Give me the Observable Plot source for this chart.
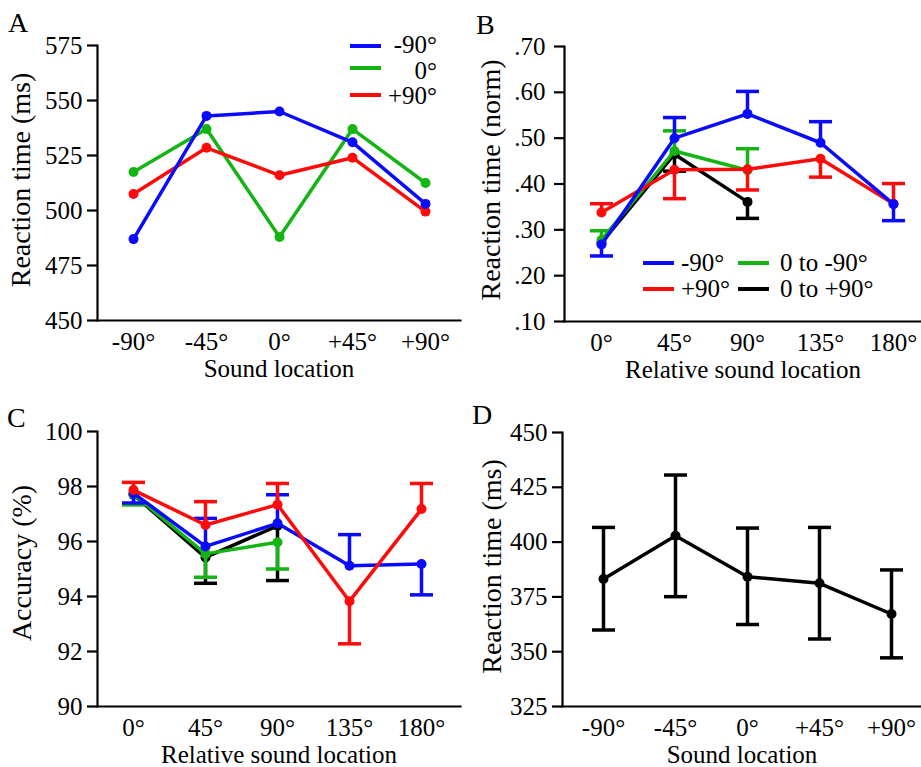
<!DOCTYPE html>
<html>
<head>
<meta charset="utf-8">
<script src="https://cdn.jsdelivr.net/npm/d3@7"></script>
<script src="https://cdn.jsdelivr.net/npm/@observablehq/plot@0.6"></script>
<style>
  html, body { margin: 0; padding: 0; background: #fff; font-family: 'Liberation Serif'; }
  #root { position: relative; width: 921px; height: 767px; overflow: hidden; font-family: 'Liberation Serif'; color: #000; }
  .panel { position: absolute; }
  .panel svg { overflow: visible; font-family: 'Liberation Serif'; }
  .letter { position: absolute; font-family: 'Liberation Serif'; font-size: 28px; line-height: 1; }
  .sw { position: absolute; height: 4px; width: 31px; }
  .lg { position: absolute; font-family: 'Liberation Serif'; font-size: 25px; line-height: 0.82; transform: translateY(-50%); white-space: nowrap; }
</style>
</head>
<body>
<div id="root"></div>
<script>
// ---------- data ----------
const soundLocation = ["-90°", "-45°", "0°", "+45°", "+90°"];
const relativeLocation = ["0°", "45°", "90°", "135°", "180°"];

// Panel A: reaction time (ms) by sound location
const aMinus90 = [487, 543, 545, 531, 503];
const aZero = [517.5, 537, 488, 537, 512.5];
const aPlus90 = [507.5, 528.5, 516, 524, 499.5];

// Panel B: normalized reaction time; err = end of the (one-sided) error bar
const bMinus90 = [0.268, 0.500, 0.553, 0.490, 0.356];
const bMinus90Err = [0.243, 0.545, 0.602, 0.536, 0.320];
const bPlus90 = [0.338, 0.431, 0.432, 0.455, 0.357];
const bPlus90Err = [0.357, 0.368, 0.387, 0.415, 0.401];
const bZeroToMinus90 = [0.278, 0.472, 0.430];
const bZeroToMinus90Err = [0.298, 0.516, 0.477];
const bZeroToPlus90 = [0.272, 0.465, 0.361];
const bZeroToPlus90Err = [null, 0.428, 0.325];

// Panel C: accuracy (%)
const cMinus90 = [97.76, 95.82, 96.66, 95.12, 95.18];
const cMinus90Err = [97.40, 96.84, 97.70, 96.25, 94.06];
const cPlus90 = [97.87, 96.60, 97.34, 93.83, 97.18];
const cPlus90Err = [98.15, 97.45, 98.11, 92.28, 98.11];
const cZeroToMinus90 = [97.72, 95.55, 95.97];
const cZeroToMinus90Err = [97.33, 94.70, 95.00];
const cZeroToPlus90 = [97.70, 95.42, 96.57];
const cZeroToPlus90Err = [null, 94.48, 94.58];

// Panel D: reaction time (ms), mean with lower/upper error
const dRT = [383.2, 402.9, 384.2, 381.2, 367.2];
const dRTHigh = [406.7, 430.6, 406.4, 406.7, 387.3];
const dRTLow = [359.9, 375.1, 362.4, 355.8, 347.2];

// tick labels
const aTicks = [450, 475, 500, 525, 550, 575];
const bTicks = [0.1, 0.2, 0.3, 0.4, 0.5, 0.6, 0.7];
const cTicks = [90, 92, 94, 96, 98, 100];
const dTicks = [325, 350, 375, 400, 425, 450];

const BLUE = "#0a0aff", GREEN = "#14b414", RED = "#ff0a0a", BLACK = "#000000";

const legendA = [["-90°", BLUE], ["0°", GREEN], ["+90°", RED]];
const legendB = [["-90°", BLUE], ["0 to -90°", GREEN], ["+90°", RED], ["0 to +90°", BLACK]];

// ---------- helpers ----------
const FONT = "Liberation Serif";
const capSymbol = {
  draw(context, size) {
    const w = Math.sqrt(size / Math.PI);
    context.moveTo(-w, 0);
    context.lineTo(w, 0);
  }
};
const SW = 3.5;
const DOT_R = 5;

function seriesMarks(cats, vals, errs, color) {
  const rows = vals.map((v, i) => ({x: cats[i], y: v, e: errs ? errs[i] : null}));
  const er = rows.filter(d => d.e != null);
  return [
    Plot.ruleX(er, {x: "x", y1: "y", y2: "e", stroke: color, strokeWidth: SW}),
    Plot.dot(er, {x: "x", y: "e", symbol: capSymbol, r: 11.5, stroke: color, strokeWidth: SW, fill: "none"}),
    Plot.line(rows, {x: "x", y: "y", stroke: color, strokeWidth: SW}),
    Plot.dot(rows, {x: "x", y: "y", r: DOT_R, fill: color})
  ];
}

function axes(yTicks, yFormat, xLabel, yLabel, yDx, yPad, yDy) {
  return [
    Plot.axisY({ticks: yTicks, tickFormat: yFormat, tickSize: 10, tickPadding: yPad, strokeWidth: 2.2, fontSize: 25, fontFamily: FONT, label: null}),
    Plot.axisX({tickSize: 0, tickPadding: 12, fontSize: 25, fontFamily: FONT, label: null}),
    Plot.frame({anchor: "left", strokeWidth: 2.2}),
    Plot.frame({anchor: "bottom", strokeWidth: 2.2}),
    Plot.text([xLabel], {frameAnchor: "bottom", lineAnchor: "bottom", dy: 56, fontSize: 25, fontFamily: FONT}),
    Plot.text([yLabel], {frameAnchor: "left", rotate: -90, dx: yDx, dy: yDy, fontSize: 28, fontFamily: FONT, textAnchor: "middle", lineAnchor: "middle"})
  ];
}

const baseStyle = "font-family: 'Liberation Serif'; font-size: 25px; background: transparent; color: #000; overflow: visible;";

const root = document.getElementById("root");
function place(node, left, top) {
  const div = document.createElement("div");
  div.className = "panel";
  div.style.left = left + "px";
  div.style.top = top + "px";
  div.appendChild(node);
  root.appendChild(div);
}
function letter(t, left, top) {
  const d = document.createElement("div");
  d.className = "letter";
  d.textContent = t;
  d.style.left = left + "px";
  d.style.top = top + "px";
  root.appendChild(d);
}
function legendItem(label, color, lineLeft, textLeft, lineY, textY, rightAlign) {
  const s = document.createElement("div");
  s.className = "sw";
  s.style.left = lineLeft + "px";
  s.style.top = (lineY - 2) + "px";
  s.style.background = color;
  root.appendChild(s);
  const t = document.createElement("div");
  t.className = "lg";
  t.textContent = label;
  t.style.top = textY + "px";
  if (rightAlign) { t.style.right = (921 - textLeft) + "px"; t.style.textAlign = "right"; }
  else t.style.left = textLeft + "px";
  root.appendChild(t);
}

// ---------- Panel A ----------
const plotA = Plot.plot({
  width: 460, height: 390,
  marginLeft: 97, marginRight: 0, marginTop: 45, marginBottom: 70,
  style: baseStyle,
  x: {type: "point", domain: soundLocation, padding: 0.48, align: 0.51},
  y: {domain: [450, 575]},
  marks: [
    ...axes(aTicks, d => d, "Sound location", "Reaction time (ms)", -76, 5, -3),
    ...seriesMarks(soundLocation, aZero, null, GREEN),
    ...seriesMarks(soundLocation, aPlus90, null, RED),
    ...seriesMarks(soundLocation, aMinus90, null, BLUE)
  ]
});
place(plotA, 0, 0);

// ---------- Panel B ----------
const fmtB = d => d3.format(".2f")(d).replace(/^0/, "");
const plotB = Plot.plot({
  width: 461, height: 390,
  marginLeft: 104, marginRight: 0, marginTop: 46, marginBottom: 69,
  style: baseStyle,
  x: {type: "point", domain: relativeLocation, padding: 0.437, align: 0.5625},
  y: {domain: [0.1, 0.7]},
  marks: [
    ...axes(bTicks, fmtB, "Relative sound location", "Reaction time (norm)", -73, 9, -4),
    ...seriesMarks(relativeLocation, bZeroToPlus90, bZeroToPlus90Err, BLACK),
    ...seriesMarks(relativeLocation, bZeroToMinus90, bZeroToMinus90Err, GREEN),
    ...seriesMarks(relativeLocation, bPlus90, bPlus90Err, RED),
    ...seriesMarks(relativeLocation, bMinus90, bMinus90Err, BLUE)
  ]
});
place(plotB, 460, 0);

// ---------- Panel C ----------
const plotC = Plot.plot({
  width: 460, height: 377,
  marginLeft: 97, marginRight: 0, marginTop: 41, marginBottom: 61,
  style: baseStyle,
  x: {type: "point", domain: relativeLocation, padding: 0.495, align: 0.486},
  y: {domain: [90, 100]},
  marks: [
    ...axes(cTicks, d => d, "Relative sound location", "Accuracy (%)", -75, 5, -6),
    ...seriesMarks(relativeLocation, cZeroToPlus90, cZeroToPlus90Err, BLACK),
    ...seriesMarks(relativeLocation, cZeroToMinus90, cZeroToMinus90Err, GREEN),
    ...seriesMarks(relativeLocation, cMinus90, cMinus90Err, BLUE),
    ...seriesMarks(relativeLocation, cPlus90, cPlus90Err, RED)
  ]
});
place(plotC, 0, 390);

// ---------- Panel D ----------
const dRows = dRT.map((v, i) => ({x: soundLocation[i], y: v, lo: dRTLow[i], hi: dRTHigh[i]}));
const plotD = Plot.plot({
  width: 461, height: 377,
  marginLeft: 102, marginRight: 0, marginTop: 42, marginBottom: 61,
  style: baseStyle,
  x: {type: "point", domain: soundLocation, padding: 0.459, align: 0.58},
  y: {domain: [325, 450]},
  marks: [
    ...axes(dTicks, d => d, "Sound location", "Reaction time (ms)", -70, 5, -3),
    Plot.ruleX(dRows, {x: "x", y1: "lo", y2: "hi", stroke: BLACK, strokeWidth: SW}),
    Plot.dot(dRows, {x: "x", y: "lo", symbol: capSymbol, r: 11.5, stroke: BLACK, strokeWidth: SW, fill: "none"}),
    Plot.dot(dRows, {x: "x", y: "hi", symbol: capSymbol, r: 11.5, stroke: BLACK, strokeWidth: SW, fill: "none"}),
    Plot.line(dRows, {x: "x", y: "y", stroke: BLACK, strokeWidth: SW}),
    Plot.dot(dRows, {x: "x", y: "y", r: DOT_R, fill: BLACK})
  ]
});
place(plotD, 460, 390);

// ---------- letters ----------
letter("A", 8, 9);
letter("B", 476, 11);
letter("C", 7, 404);
letter("D", 472, 401);

// ---------- legends ----------
const aLineY = [45.7, 68.3, 95], aTextY = [45, 70.5, 96];
legendA.forEach(([label, color], i) => legendItem(label, color, 350, 437, aLineY[i], aTextY[i], true));
const bColLine = [643, 738], bColText = [681, 780], bRowY = [262.7, 289.3];
legendB.forEach(([label, color], i) => {
  const col = i % 2, row = Math.floor(i / 2);
  legendItem(label, color, bColLine[col], bColText[col], bRowY[row], bRowY[row], false);
});
</script>
</body>
</html>
